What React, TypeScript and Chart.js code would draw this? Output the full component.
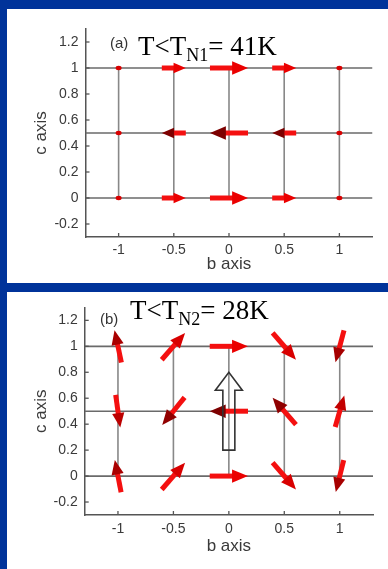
import React, { useEffect, useRef } from 'react';
import { Chart, registerables } from 'chart.js';

Chart.register(...registerables);

// ---- data ----
const B_SITES = [-1, -0.5, 0, 0.5, 1];
const C_SITES = [0, 0.5, 1];
const B_RANGE = [-1.3, 1.3];
const C_RANGE = [-0.3, 1.3];
const X_TICKS = [-1, -0.5, 0, 0.5, 1];
const X_TICK_LABELS = ['-1', '-0.5', '0', '0.5', '1'];
const Y_TICKS = [-0.2, 0, 0.2, 0.4, 0.6, 0.8, 1, 1.2];
const Y_TICK_LABELS = ['-0.2', '0', '0.2', '0.4', '0.6', '0.8', '1', '1.2'];

// panel (a): collinear, amplitude-modulated moments (angle in degrees from +b)
const A_MAGNITUDE = [0, 0.63, 1, 0.63, 0];
const A_ANGLE_C0 = [0, 0, 0, 0, 0];
const A_ANGLE_C05 = [180, 180, 180, 180, 180];
const A_ANGLE_C1 = [0, 0, 0, 0, 0];

// panel (b): cycloidal moments in the bc plane
const B_MAGNITUDE = [0.86, 0.93, 1, 0.93, 0.86];
const B_ANGLE_C0 = [101, 49, 0, -49, -104];
const B_ANGLE_C05 = [-82, -129, 180, 131, 74];
const B_ANGLE_C1 = [102, 49, 0, -49, -105];

// net moment (hollow arrow) in panel (b)
const NET_B = [0];
const NET_C_FROM = [0.2];
const NET_C_TO = [0.8];

const TITLE_A = ['(a)', 'T<T', 'N1', '= 41K'];
const TITLE_B = ['(b)', 'T<T', 'N2', '= 28K'];

// ---- styles ----
const SANS = "Arial, 'Liberation Sans', Helvetica, sans-serif";
const SERIF = "'Times New Roman', 'Liberation Serif', 'DejaVu Serif', serif";
const ARROW_SPAN = 0.345; // full arrow length for unit moment, in b-axis units

function drawArrow(ctx: CanvasRenderingContext2D, cx: number, cy: number, angleDeg: number, L: number) {
  const a = (angleDeg * Math.PI) / 180;
  const ux = Math.cos(a);
  const uy = -Math.sin(a);
  const hl = 6 + 0.26 * L;
  const hw = 0.84 * hl;
  const tx = cx - (ux * L) / 2;
  const ty = cy - (uy * L) / 2;
  const px = cx + (ux * L) / 2;
  const py = cy + (uy * L) / 2;
  const bx = px - ux * hl;
  const by = py - uy * hl;
  ctx.save();
  ctx.strokeStyle = '#f41010';
  ctx.lineWidth = 5;
  ctx.lineCap = 'butt';
  ctx.beginPath();
  ctx.moveTo(tx, ty);
  ctx.lineTo(bx + ux * 2, by + uy * 2);
  ctx.stroke();
  const shade = (1 + Math.cos(a)) / 2;
  const r = Math.round(125 + 110 * shade);
  ctx.fillStyle = `rgb(${r},0,0)`;
  ctx.beginPath();
  ctx.moveTo(px, py);
  ctx.lineTo(bx - (uy * hw) / 2, by + (ux * hw) / 2);
  ctx.lineTo(bx + (uy * hw) / 2, by - (ux * hw) / 2);
  ctx.closePath();
  ctx.fill();
  ctx.restore();
}

const spinPlugin = {
  id: 'spinArrows',
  afterDatasetsDraw(chart: any, _args: any, opts: any) {
    const ctx: CanvasRenderingContext2D = chart.ctx;
    const xs = chart.scales.x;
    const ys = chart.scales.y;
    const span = Math.abs(xs.getPixelForValue(ARROW_SPAN) - xs.getPixelForValue(0));
    chart.data.datasets.forEach((ds: any, i: number) => {
      if (!ds.spins) return;
      const meta = chart.getDatasetMeta(i);
      meta.data.forEach((el: any, j: number) => {
        const d = ds.data[j];
        if (d.mag === 0) {
          ctx.save();
          ctx.fillStyle = '#d80000';
          ctx.beginPath();
          ctx.ellipse(el.x, el.y, 3, 2.2, 0, 0, Math.PI * 2);
          ctx.fill();
          ctx.restore();
        } else {
          drawArrow(ctx, el.x, el.y, d.angle, d.mag * span);
        }
      });
    });
    if (opts && opts.net) {
      ctx.save();
      ctx.strokeStyle = '#333';
      ctx.lineWidth = 1.6;
      ctx.lineJoin = 'miter';
      NET_B.forEach((b, k) => {
        const x = xs.getPixelForValue(b);
        const y0 = ys.getPixelForValue(NET_C_FROM[k]);
        const y1 = ys.getPixelForValue(NET_C_TO[k]);
        const sw = 6;
        const hw = 13.5;
        const hl = 18;
        ctx.beginPath();
        ctx.moveTo(x - sw, y0);
        ctx.lineTo(x - sw, y1 + hl);
        ctx.lineTo(x - hw, y1 + hl);
        ctx.lineTo(x, y1);
        ctx.lineTo(x + hw, y1 + hl);
        ctx.lineTo(x + sw, y1 + hl);
        ctx.lineTo(x + sw, y0);
        ctx.closePath();
        ctx.stroke();
      });
      ctx.restore();
    }
    // inside tick marks (MATLAB style)
    const { left, bottom } = chart.chartArea;
    ctx.save();
    ctx.strokeStyle = '#555';
    ctx.lineWidth = 1.3;
    ys.ticks.forEach((t: any) => {
      const y = ys.getPixelForValue(t.value);
      ctx.beginPath();
      ctx.moveTo(left, y);
      ctx.lineTo(left + 4, y);
      ctx.stroke();
    });
    xs.ticks.forEach((t: any) => {
      const x = xs.getPixelForValue(t.value);
      ctx.beginPath();
      ctx.moveTo(x, bottom);
      ctx.lineTo(x, bottom - 4);
      ctx.stroke();
    });
    ctx.restore();
  },
};

const titlePlugin = {
  id: 'panelTitle',
  afterDraw(chart: any, _args: any, opts: any) {
    const ctx: CanvasRenderingContext2D = chart.ctx;
    const [tag, main, sub, rest] = opts.text as string[];
    ctx.save();
    ctx.fillStyle = '#333';
    ctx.font = `15px ${SANS}`;
    ctx.textBaseline = 'middle';
    ctx.fillText(tag, opts.tagX, opts.tagY);
    ctx.textBaseline = 'alphabetic';
    ctx.fillStyle = '#000';
    ctx.font = `27px ${SERIF}`;
    let x = opts.x;
    ctx.fillText(main, x, opts.y);
    x += ctx.measureText(main).width;
    ctx.font = `18px ${SERIF}`;
    ctx.fillText(sub, x, opts.y + 6);
    x += ctx.measureText(sub).width;
    ctx.font = `27px ${SERIF}`;
    ctx.fillText(rest, x, opts.y);
    ctx.restore();
  },
};

type Spec = {
  width: number;
  height: number;
  padTop: number;
  padRight: number;
  yAxisWidth: number;
  xAxisHeight: number;
  xTickPad: number;
  xTitlePadBottom: number;
  yTitlePadTop: number;
  magnitude: number[];
  rows: number[][];
  net: boolean;
  title: { text: string[]; tagX: number; tagY: number; x: number; y: number };
};

function makeConfig(s: Spec): any {
  const hLines = C_SITES.map((c) => ({
    data: [
      { x: B_RANGE[0], y: c },
      { x: B_RANGE[1], y: c },
    ],
    showLine: true,
    borderColor: '#6a6a6a',
    borderWidth: 1.6,
    pointRadius: 0,
  }));
  const vLines = B_SITES.map((b) => ({
    data: [
      { x: b, y: C_SITES[0] },
      { x: b, y: C_SITES[C_SITES.length - 1] },
    ],
    showLine: true,
    borderColor: '#888888',
    borderWidth: 1.6,
    pointRadius: 0,
  }));
  const spinData: any[] = [];
  C_SITES.forEach((c, i) => {
    B_SITES.forEach((b, j) => {
      spinData.push({ x: b, y: c, angle: s.rows[i][j], mag: s.magnitude[j] });
    });
  });
  const spins = {
    spins: true,
    data: spinData,
    pointRadius: 0,
    pointHoverRadius: 0,
    showLine: false,
  };
  return {
    type: 'scatter',
    data: { datasets: [...hLines, ...vLines, spins] },
    plugins: [spinPlugin, titlePlugin],
    options: {
      animation: false,
      responsive: false,
      events: [],
      layout: { padding: { top: s.padTop, right: s.padRight, left: 0, bottom: 0 } },
      plugins: {
        legend: { display: false },
        tooltip: { enabled: false },
        title: { display: false },
        spinArrows: { net: s.net },
        panelTitle: s.title,
      },
      scales: {
        x: {
          type: 'linear',
          min: B_RANGE[0],
          max: B_RANGE[1],
          afterBuildTicks: (scale: any) => {
            scale.ticks = X_TICKS.map((v) => ({ value: v }));
          },
          afterFit: (scale: any) => {
            scale.height = s.xAxisHeight;
          },
          grid: { display: false, drawTicks: false },
          border: { display: true, color: '#555', width: 1.5 },
          ticks: {
            padding: s.xTickPad,
            maxRotation: 0,
            autoSkip: false,
            color: '#3a3a3a',
            font: { family: SANS, size: 14 },
            callback: (_v: any, i: number) => X_TICK_LABELS[i],
          },
          title: {
            display: true,
            text: 'b axis',
            color: '#3a3a3a',
            font: { family: SANS, size: 17 },
            padding: { top: 0, bottom: s.xTitlePadBottom },
          },
        },
        y: {
          type: 'linear',
          min: C_RANGE[0],
          max: C_RANGE[1],
          afterBuildTicks: (scale: any) => {
            scale.ticks = Y_TICKS.map((v) => ({ value: v }));
          },
          afterFit: (scale: any) => {
            scale.width = s.yAxisWidth;
          },
          grid: { display: false, drawTicks: false },
          border: { display: true, color: '#555', width: 1.5 },
          ticks: {
            padding: 7,
            autoSkip: false,
            color: '#3a3a3a',
            font: { family: SANS, size: 14 },
            callback: (_v: any, i: number) => Y_TICK_LABELS[i],
          },
          title: {
            display: true,
            text: 'c axis',
            color: '#3a3a3a',
            font: { family: SANS, size: 17 },
            padding: { top: s.yTitlePadTop, bottom: 0 },
          },
        },
      },
    },
  };
}

const SPEC_A: Spec = {
  width: 381,
  height: 274,
  padTop: 20,
  padRight: 15.5,
  yAxisWidth: 78.5,
  xAxisHeight: 46,
  xTickPad: 4.5,
  xTitlePadBottom: 8.3,
  yTitlePadTop: 23.8,
  magnitude: A_MAGNITUDE,
  rows: [A_ANGLE_C0, A_ANGLE_C05, A_ANGLE_C1],
  net: false,
  title: { text: TITLE_A, tagX: 103, tagY: 35, x: 131, y: 46 },
};

const SPEC_B: Spec = {
  width: 381,
  height: 277,
  padTop: 15,
  padRight: 15,
  yAxisWidth: 77.7,
  xAxisHeight: 54,
  xTickPad: 5.5,
  xTitlePadBottom: 12.8,
  yTitlePadTop: 23.8,
  magnitude: B_MAGNITUDE,
  rows: [B_ANGLE_C0, B_ANGLE_C05, B_ANGLE_C1],
  net: true,
  title: { text: TITLE_B, tagX: 93, tagY: 28, x: 123, y: 27 },
};

function Panel({ spec, left, top }: { spec: Spec; left: number; top: number }) {
  const ref = useRef<HTMLCanvasElement | null>(null);
  useEffect(() => {
    if (!ref.current) return;
    const chart = new Chart(ref.current, makeConfig(spec));
    return () => chart.destroy();
  }, [spec]);
  return (
    <div
      style={{
        position: 'absolute',
        left,
        top,
        width: spec.width,
        height: spec.height,
        background: '#ffffff',
      }}
    >
      <canvas
        ref={ref}
        width={spec.width}
        height={spec.height}
        style={{ display: 'block', width: spec.width, height: spec.height }}
      />
    </div>
  );
}

export default function App() {
  return (
    <div
      style={{
        position: 'absolute',
        left: 0,
        top: 0,
        width: 388,
        height: 569,
        background: '#00339a',
        overflow: 'hidden',
      }}
    >
      <Panel spec={SPEC_A} left={7} top={9} />
      <Panel spec={SPEC_B} left={7} top={292} />
    </div>
  );
}
